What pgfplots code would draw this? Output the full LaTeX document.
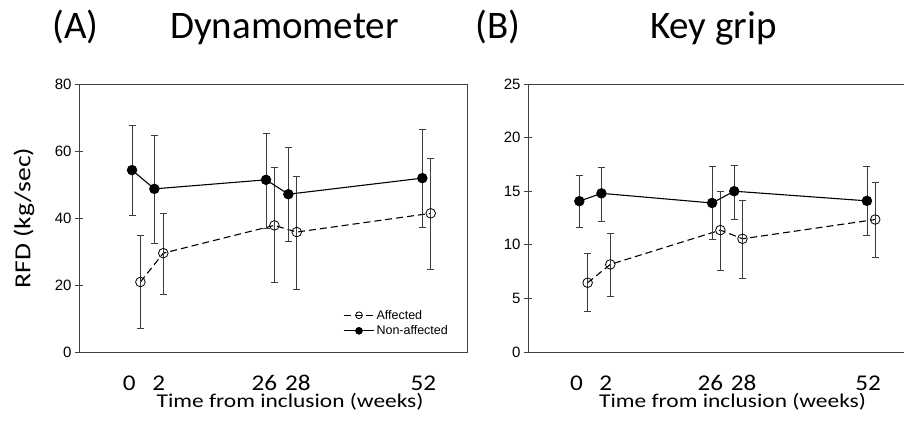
\documentclass[border=0pt]{standalone}
\usepackage{fontspec}
\setmainfont{Carlito}
\newfontfamily\arialfont{Liberation Sans}
\newfontfamily\calS[FakeStretch=1.2]{Carlito}
\newfontfamily\calT[FakeStretch=1.12]{Carlito}
\usepackage{pgfplots}
\pgfplotsset{compat=1.18}
\usepackage{pgfplotstable}

% columns: x y ep em
\pgfplotstableread{
x y ep em
0 54.3 13.2 13.4
4 48.7 16.1 16.3
24 51.4 14.0 14.4
28 47.1 14.0 14.1
52 51.9 14.6 14.8
}\dynNA
\pgfplotstableread{
x y ep em
1.5 20.9 13.9 13.8
5.6 29.5 11.9 12.3
25.5 37.8 17.3 17.1
29.5 35.8 16.7 17.0
53.5 41.4 16.4 16.8
}\dynA
\pgfplotstableread{
x y ep em
0 14.07 2.43 2.47
4 14.8 2.4 2.6
24 13.9 3.4 3.4
28 15.0 2.4 2.6
52 14.1 3.2 3.2
}\keyNA
\pgfplotstableread{
x y ep em
1.5 6.46 2.7 2.7
5.6 8.17 2.93 2.98
25.5 11.37 3.63 3.77
29.5 10.56 3.54 3.7
53.5 12.36 3.44 3.51
}\keyA

\definecolor{axcol}{HTML}{404040}
\definecolor{errcol}{HTML}{3C3C3C}

\pgfplotsset{
  panel/.style={
    scale only axis,
    height=268pt,
    ymin=0,
    axis line style={axcol, line width=0.9pt},
    /pgf/number format/assume math mode=true,
    yticklabel style={font=\arialfont\fontsize{15}{15}\selectfont, text=black},
    xticklabel style={font=\calT\fontsize{22.5}{22.5}\selectfont, anchor=base, inner sep=0pt, yshift=-34pt, text=black},
    xtick={-0.5,4.8,23.7,29.7,52.2},
    xticklabels={0,2,26,28,52},
    x tick style={draw=none},
    y tick style={axcol, line width=0.8pt},
    tick align=center,
    major tick length=8pt,
    ytick pos=left,
    xlabel={Time from inclusion (weeks)},
    xlabel style={font=\calS\fontsize{19.5}{19.5}\selectfont, inner sep=0pt, at={(axis description cs:0.544,-0.2075)}, anchor=base},
    error bars/y dir=both,
    error bars/y explicit,
    error bars/error bar style={errcol, line width=0.8pt, solid},
    error bars/error mark options={rotate=90, errcol, mark size=3.5pt, line width=0.8pt, solid},
  },
  nastyle/.style={black, line width=1.1pt, solid, mark=*, mark size=4.8pt, mark options={fill=black, solid, line width=0.8pt}},
  astyle/.style={black, line width=1.1pt, dash pattern=on 7pt off 4pt, mark=o, mark size=4.8pt, mark options={fill=white, solid, line width=0.8pt}},
}

\begin{document}
\begin{tikzpicture}
\path[use as bounding box] (0,0) rectangle (904pt,428pt);

\node[anchor=base west, inner sep=0pt, font=\fontsize{39}{39}\selectfont] at (52pt,389pt) {(A)};
\node[anchor=base west, inner sep=0pt, font=\fontsize{39}{39}\selectfont] at (170pt,389pt) {Dynamometer};
\node[anchor=base west, inner sep=0pt, font=\fontsize{39}{39}\selectfont] at (475pt,389pt) {(B)};
\node[anchor=base west, inner sep=0pt, font=\fontsize{39}{39}\selectfont] at (650pt,389pt) {Key grip};

\begin{axis}[panel,
  at={(79pt,76pt)}, anchor=south west,
  width=388pt,
  xmin=-9.5, xmax=60,
  ymax=80, ytick={0,20,40,60,80},
  ylabel={RFD (kg/sec)},
  ylabel style={font=\calS\fontsize{23}{23}\selectfont, at={(axis description cs:-0.142,0.5)}, anchor=center},
  legend style={at={(axis description cs:0.681,0.165)}, anchor=north west, draw=none, fill=none,
    font=\arialfont\fontsize{12.5}{12.5}\selectfont, row sep=1pt, inner sep=0pt,
    cells={anchor=west}},
  legend image code/.code={\draw[mark repeat=2,mark phase=2,#1,mark size=3.4pt] plot coordinates {(0pt,0pt) (15pt,0pt) (30pt,0pt)};},
]
\addplot[astyle] table[x=x,y=y,y error plus=ep,y error minus=em] {\dynA};
\addlegendentry{Affected}
\addplot[nastyle] table[x=x,y=y,y error plus=ep,y error minus=em] {\dynNA};
\addlegendentry{Non-affected}
\end{axis}

\begin{axis}[panel,
  at={(528pt,76pt)}, anchor=south west,
  width=376pt,
  xmin=-9.28, xmax=58.7,
  axis x line*=box, axis y line*=left,
  ymax=25, ytick={0,5,10,15,20,25},
]
\addplot[astyle] table[x=x,y=y,y error plus=ep,y error minus=em] {\keyA};
\addplot[nastyle] table[x=x,y=y,y error plus=ep,y error minus=em] {\keyNA};
\end{axis}
\end{tikzpicture}
\end{document}
